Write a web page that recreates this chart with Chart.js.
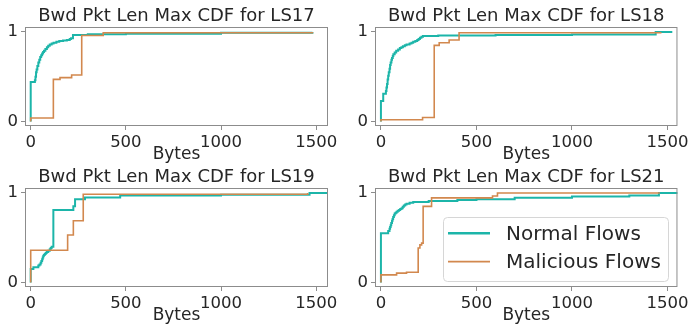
<!DOCTYPE html>
<html>
<head>
<meta charset="utf-8">
<script src="https://cdn.jsdelivr.net/npm/chart.js@4.4.1/dist/chart.umd.min.js"></script>
<style>
body{margin:0;background:#fff;}
#fig{position:relative;width:692px;height:327px;overflow:hidden;}
.panel{position:absolute;}
</style>
</head>
<body>
<div id="fig">
  <div class="panel" style="left:0px;top:0px"><canvas id="c1" width="346" height="163"></canvas></div>
  <div class="panel" style="left:346px;top:0px"><canvas id="c2" width="346" height="163"></canvas></div>
  <div class="panel" style="left:0px;top:163px"><canvas id="c3" width="346" height="164"></canvas></div>
  <div class="panel" style="left:346px;top:163px"><canvas id="c4" width="346" height="164"></canvas></div>
</div>
<script>
// data
var xTicks = [0, 500, 1000, 1500];
var yTicks = [0, 1];
var seriesNames = ['Normal Flows', 'Malicious Flows'];
var titles = ['Bwd Pkt Len Max CDF for LS17', 'Bwd Pkt Len Max CDF for LS18', 'Bwd Pkt Len Max CDF for LS19', 'Bwd Pkt Len Max CDF for LS21'];

var ls17NormalBytes = [0, 0, 22, 25, 28, 31, 35, 40, 45, 50, 55, 60, 65, 70, 77, 85, 92, 100, 110, 120, 135, 150, 170, 190, 205, 212, 222, 300, 500, 1000, 1480];
var ls17NormalCdf   = [0, 0.44, 0.46, 0.50, 0.55, 0.58, 0.62, 0.66, 0.69, 0.72, 0.74, 0.76, 0.775, 0.79, 0.81, 0.83, 0.845, 0.86, 0.87, 0.88, 0.89, 0.90, 0.905, 0.91, 0.92, 0.93, 0.965, 0.975, 0.98, 0.99, 1.0];
var ls17MalBytes = [0, 0, 119, 154, 215, 268, 381, 1480];
var ls17MalCdf   = [0, 0.04, 0.47, 0.49, 0.52, 0.96, 0.99, 1.0];

var ls18NormalBytes = [0, 0, 12, 26, 29, 32, 35, 38, 41, 45, 48, 51, 55, 58, 62, 65, 72, 80, 90, 99, 107, 115, 125, 134, 150, 160, 169, 180, 190, 197, 204, 212, 220, 300, 600, 1000, 1438, 1525];
var ls18NormalCdf   = [0, 0.23, 0.31, 0.34, 0.38, 0.42, 0.47, 0.51, 0.55, 0.59, 0.63, 0.66, 0.69, 0.71, 0.73, 0.75, 0.77, 0.79, 0.805, 0.82, 0.83, 0.84, 0.85, 0.86, 0.87, 0.88, 0.89, 0.90, 0.91, 0.92, 0.935, 0.945, 0.955, 0.96, 0.965, 0.97, 1.0, 1.0];
var ls18MalBytes = [0, 0, 218, 279, 305, 357, 409, 1464];
var ls18MalCdf   = [0, 0.02, 0.045, 0.85, 0.88, 0.91, 0.99, 1.0];

var ls19NormalBytes = [0, 0, 14, 40, 46, 52, 56, 60, 63, 66, 70, 75, 80, 84, 92, 100, 105, 110, 119, 224, 233, 285, 470, 1000, 1465, 1562];
var ls19NormalCdf   = [0, 0.15, 0.17, 0.19, 0.20, 0.22, 0.24, 0.26, 0.28, 0.30, 0.31, 0.32, 0.33, 0.34, 0.355, 0.37, 0.385, 0.40, 0.81, 0.85, 0.93, 0.95, 0.97, 0.98, 1.0, 1.0];
var ls19MalBytes = [0, 0, 194, 224, 276, 1455];
var ls19MalCdf   = [0, 0.36, 0.53, 0.69, 0.985, 1.0];

var ls21NormalBytes = [0, 0, 38, 45, 48, 51, 54, 58, 61, 64, 68, 72, 77, 82, 88, 95, 101, 108, 114, 120, 127, 134, 150, 169, 250, 400, 500, 700, 1000, 1300, 1455, 1555];
var ls21NormalCdf   = [0, 0.55, 0.575, 0.60, 0.62, 0.64, 0.665, 0.69, 0.71, 0.73, 0.75, 0.77, 0.78, 0.79, 0.80, 0.81, 0.82, 0.83, 0.845, 0.86, 0.87, 0.88, 0.89, 0.90, 0.91, 0.92, 0.93, 0.945, 0.96, 0.97, 1.0, 1.0];
var ls21MalBytes = [0, 0, 82, 134, 195, 204, 213, 221, 265, 584, 610, 1460];
var ls21MalCdf   = [0, 0.085, 0.105, 0.115, 0.385, 0.42, 0.44, 0.85, 0.945, 0.965, 1.0, 1.0];

var normalColor = '#1cb5a9';
var malColor = '#d2884e';
var textColor = '#262626';
var frameColor = '#8c8c8c';
var fontFam = "'DejaVu Sans', sans-serif";

function pts(xs, ys) {
  var out = [];
  for (var i = 0; i < xs.length; i++) out.push({x: xs[i], y: ys[i]});
  return out;
}

// box round the plot area
var framePlugin = {
  id: 'frame',
  afterDatasetsDraw: function(chart) {
    var a = chart.chartArea, ctx = chart.ctx;
    ctx.save();
    ctx.strokeStyle = frameColor;
    ctx.lineWidth = 1;
    ctx.strokeRect(a.left + 0.5, a.top + 0.5, a.right - a.left - 1, a.bottom - a.top - 1);
    ctx.restore();
  }
};

// legend inside the last panel, bottom right
var boxLegend = {
  id: 'boxLegend',
  afterDraw: function(chart, args, opts) {
    if (!opts.show) return;
    var ctx = chart.ctx;
    var bx = 97, by = 54, bw = 225, bh = 64;
    ctx.save();
    ctx.beginPath();
    ctx.roundRect(bx + 0.5, by + 0.5, bw, bh, 4);
    ctx.fillStyle = 'rgba(255,255,255,0.8)';
    ctx.fill();
    ctx.strokeStyle = '#d6d6d6';
    ctx.lineWidth = 1;
    ctx.stroke();
    var rows = [70.3, 98.7];
    chart.data.datasets.forEach(function(ds, i) {
      ctx.beginPath();
      ctx.moveTo(bx + 5, rows[i]);
      ctx.lineTo(bx + 47, rows[i]);
      ctx.strokeStyle = ds.borderColor;
      ctx.lineWidth = i == 0 ? 2.6 : 1.8;
      ctx.stroke();
      ctx.fillStyle = textColor;
      ctx.font = '20px ' + fontFam;
      ctx.textBaseline = 'middle';
      ctx.fillText(ds.label, bx + 63, rows[i] + 1);
    });
    ctx.restore();
  }
};

function makeChart(id, title, nx, ny, mx, my, lay) {
  var ctx = document.getElementById(id).getContext('2d');
  return new Chart(ctx, {
    type: 'line',
    data: {
      datasets: [{
        label: seriesNames[0],
        data: pts(nx, ny),
        borderColor: normalColor,
        borderWidth: 2,
        stepped: true,
        pointRadius: 0,
        fill: false,
        order: 1
      }, {
        label: seriesNames[1],
        data: pts(mx, my),
        borderColor: malColor,
        borderWidth: 1.6,
        stepped: true,
        pointRadius: 0,
        fill: false,
        order: 0
      }]
    },
    options: {
      responsive: false,
      animation: false,
      layout: {padding: {left: 0, right: lay.padR, top: 0, bottom: 0}},
      plugins: {
        legend: {display: false},
        tooltip: {enabled: false},
        title: {
          display: true,
          text: title,
          fullSize: false,
          color: textColor,
          font: {family: fontFam, size: 18, weight: 'normal', lineHeight: 1.2},
          padding: {top: lay.tTop, bottom: lay.titleH - lay.tTop - 21.6}
        },
        boxLegend: {show: !!lay.legend}
      },
      scales: {
        x: {
          type: 'linear',
          min: lay.xMin,
          max: lay.xMax,
          afterBuildTicks: function(s) { s.ticks = xTicks.map(function(v){ return {value: v}; }); },
          afterFit: function(s) { s.height = lay.xH; },
          ticks: {color: textColor, font: {family: fontFam, size: 16.5}, padding: 3, maxRotation: 0, autoSkip: false,
            callback: function(v) { return String(v); }},
          grid: {drawOnChartArea: false, tickLength: 4, color: frameColor},
          border: {display: false},
          title: {display: true, text: 'Bytes', color: textColor, font: {family: fontFam, size: 17, lineHeight: 1.0}, padding: {top: 0, bottom: lay.bPad}}
        },
        y: {
          min: -0.05,
          max: 1.055,
          afterBuildTicks: function(s) { s.ticks = yTicks.map(function(v){ return {value: v}; }); },
          afterFit: function(s) { s.width = lay.yW; },
          ticks: {color: textColor, font: {family: fontFam, size: 16.5}, padding: 3,
            callback: function(v) { return String(v); }},
          grid: {drawOnChartArea: false, tickLength: 4, color: frameColor},
          border: {display: false}
        }
      }
    },
    plugins: [framePlugin, boxLegend]
  });
}

var top1 = {yW: 25, padR: 18, titleH: 27, tTop: 5.4, xH: 37, bPad: 0, xMin: -30, xMax: 1562};
var top2 = {yW: 29, padR: 14, titleH: 27, tTop: 5.4, xH: 37, bPad: 0, xMin: -31, xMax: 1552};
var bot3 = {yW: 25, padR: 18, titleH: 25, tTop: 3.4, xH: 40, bPad: 2.5, xMin: -30, xMax: 1562};
var bot4 = {yW: 29, padR: 14, titleH: 25, tTop: 3.4, xH: 40, bPad: 2.5, xMin: -31, xMax: 1552, legend: true};

makeChart('c1', titles[0], ls17NormalBytes, ls17NormalCdf, ls17MalBytes, ls17MalCdf, top1);
makeChart('c2', titles[1], ls18NormalBytes, ls18NormalCdf, ls18MalBytes, ls18MalCdf, top2);
makeChart('c3', titles[2], ls19NormalBytes, ls19NormalCdf, ls19MalBytes, ls19MalCdf, bot3);
makeChart('c4', titles[3], ls21NormalBytes, ls21NormalCdf, ls21MalBytes, ls21MalCdf, bot4);
</script>
</body>
</html>
